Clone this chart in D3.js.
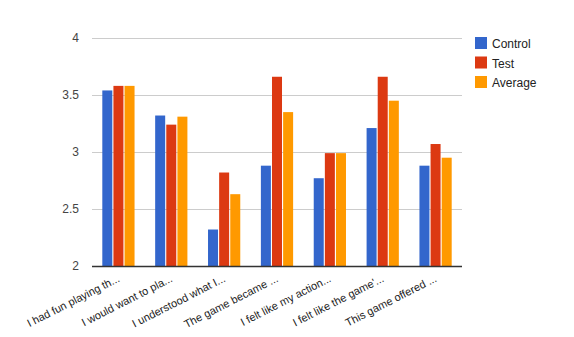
<!DOCTYPE html>
<html>
<head>
<meta charset="utf-8">
<script src="https://cdn.jsdelivr.net/npm/d3@7"></script>
<style>
  html, body { margin: 0; padding: 0; background: #fff; }
  svg { display: block; font-family: Arial, "Liberation Sans", sans-serif; }
</style>
</head>
<body>
<svg id="chart" width="574" height="337"></svg>
<script>
// Survey questions (truncated labels) and mean scores per group
const categories = [
  "I had fun playing th...",
  "I would want to pla...",
  "I understood what I...",
  "The game became ...",
  "I felt like my action...",
  "I felt like the game'...",
  "This game offered ..."
];
const seriesNames = ["Control", "Test", "Average"];
const controlValues = [3.54, 3.32, 2.32, 2.88, 2.77, 3.21, 2.88];
const testValues    = [3.58, 3.24, 2.82, 3.66, 2.99, 3.66, 3.07];
const averageValues = [3.58, 3.31, 2.63, 3.35, 2.99, 3.45, 2.95];
const yTicks = [2, 2.5, 3, 3.5, 4];
const colors = ["#3366cc", "#dc3912", "#ff9900"];

const series = [controlValues, testValues, averageValues];
const svg = d3.select("#chart");
const FONT = "Arial, 'Liberation Sans', sans-serif";

const plot = { left: 92, right: 462, top: 38, bottom: 266 };

const x = d3.scaleBand()
  .domain(categories)
  .range([plot.left, plot.right])
  .paddingInner(0.39)
  .paddingOuter(0.195);

const xInner = d3.scaleBand()
  .domain(seriesNames)
  .range([0, x.bandwidth()])
  .paddingInner(0.1);

const y = d3.scaleLinear()
  .domain([2, 4])
  .range([plot.bottom, plot.top]);

// Horizontal gridlines
svg.append("g")
  .selectAll("line")
  .data(yTicks)
  .join("line")
  .attr("x1", plot.left)
  .attr("x2", plot.right)
  .attr("y1", d => Math.round(y(d)) + 0.5)
  .attr("y2", d => Math.round(y(d)) + 0.5)
  .attr("stroke", "#cccccc")
  .attr("stroke-width", 1);

// Y axis labels
const yAxis = d3.axisLeft(y).tickValues(yTicks).tickSize(0).tickPadding(0)
  .tickFormat(d3.format("~g"));
const yg = svg.append("g")
  .attr("transform", `translate(${plot.left - 13},0)`)
  .call(yAxis);
yg.select(".domain").remove();
yg.selectAll("text")
  .attr("fill", "#444444")
  .attr("font-size", 12)
  .attr("font-family", FONT);

// Bars
const groups = svg.append("g")
  .selectAll("g")
  .data(categories)
  .join("g")
  .attr("transform", d => `translate(${x(d)},0)`);

groups.selectAll("rect")
  .data((d, i) => series.map((s, k) => ({ name: seriesNames[k], value: s[i], k })))
  .join("rect")
  .attr("x", d => xInner(d.name))
  .attr("width", xInner.bandwidth())
  .attr("y", d => y(d.value))
  .attr("height", d => y(2) - y(d.value))
  .attr("fill", d => colors[d.k]);

// Baseline
svg.append("line")
  .attr("x1", plot.left)
  .attr("x2", plot.right)
  .attr("y1", plot.bottom + 0.5)
  .attr("y2", plot.bottom + 0.5)
  .attr("stroke", "#333333")
  .attr("stroke-width", 1.5);

// Slanted category labels
const xAxis = d3.axisBottom(x).tickSize(0).tickPadding(0);
const xg = svg.append("g")
  .attr("transform", `translate(0,${plot.bottom})`)
  .call(xAxis);
xg.select(".domain").remove();
xg.selectAll("text")
  .attr("fill", "#222222")
  .attr("font-size", 11)
  .attr("font-family", FONT)
  .attr("text-anchor", "end")
  .attr("dy", null)
  .attr("y", 0)
  .attr("transform", "translate(2,15) rotate(-27)");

// Legend
const legend = svg.append("g")
  .selectAll("g")
  .data(seriesNames)
  .join("g")
  .attr("transform", (d, i) => `translate(475,${37 + i * 19.5})`);

legend.append("rect")
  .attr("width", 12)
  .attr("height", 12)
  .attr("fill", (d, i) => colors[i]);

legend.append("text")
  .attr("x", 17)
  .attr("y", 11)
  .attr("fill", "#222222")
  .attr("font-size", 12)
  .attr("font-family", FONT)
  .text(d => d);
</script>
</body>
</html>
